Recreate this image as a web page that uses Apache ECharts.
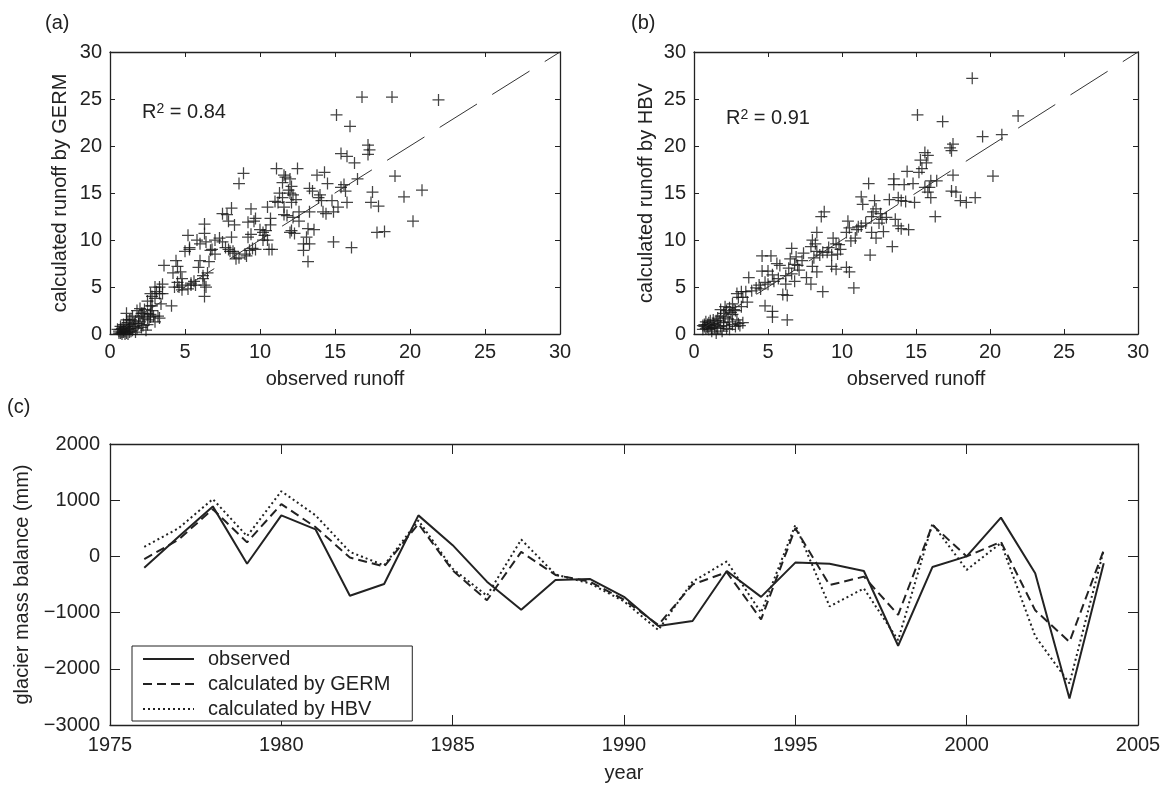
<!DOCTYPE html>
<html>
<head>
<meta charset="utf-8">
<title>runoff and glacier mass balance</title>
<script src="https://cdn.jsdelivr.net/npm/echarts@6/dist/echarts.min.js"></script>
<style>
  html, body { margin: 0; padding: 0; background: #fff; }
  #main { width: 1168px; height: 785px; }
</style>
</head>
<body>
<div id="main"></div>
<script>
// (a) observed runoff vs runoff calculated by GERM
var germObs = [16.8,18.8,21.9,15.1,16.0,15.4,15.8,16.3,17.2,17.3,17.2,19.0,20.8,19.6,20.2,17.5,17.4,17.9,17.8,18.3,
  16.1,14.9,15.6,15.4,15.7,15.8,15.2,14.9,16.5,14.5,14.3,13.8,13.5,14.0,13.9,14.8,14.4,14.2,13.2,13.1,
  12.9,13.2,13.3,13.6,12.0,12.3,12.6,12.2,11.8,12.1,12.4,11.6,11.2,11.5,11.3,11.1,12.5,11.7,11.5,12.0,
  11.9,12.0,12.2,10.5,10.7,10.4,10.3,10.5,10.2,10.8,9.4,9.6,9.2,9.4,9.7,9.3,9.1,8.9,8.6,8.1,
  7.9,7.8,8.3,8.1,8.0,8.2,8.3,7.9,8.6,7.5,7.3,7.0,6.8,7.0,6.6,6.3,6.3,6.0,6.5,6.2,
  6.3,6.3,6.0,5.6,5.4,5.7,5.2,5.3,5.0,4.4,4.5,4.7,4.2,4.8,4.5,4.6,4.8,5.2,4.3,4.1,
  3.6,3.3,3.5,3.0,3.1,2.7,3.3,3.4,3.0,2.8,2.5,2.8,2.3,2.5,2.0,2.1,1.8,1.9,2.3,2.6,
  2.9,3.2,2.5,2.2,2.0,1.7,1.5,1.3,1.6,1.5,1.2,1.0,0.8,0.7,0.9,1.1,1.4,0.6,1.0,0.8,
  1.2,1.8,1.1,2.4,3.0,0.9,1.3,1.7,0.5,0.7,11.6,13.3,12.1,11.0,14.1,11.6,12.6,13.3,10.7,10.0,
  12.1,10.2,12.9,7.5,9.2,9.7,5.8,5.3,6.4,6.7,7.7,8.4,9.0,9.5,10.6,5.9,6.2,4.8,5.4,6.4,
  2.8,3.5,1.1,2.2,1.3,2.7,3.3,0.6,0.9,1.1,0.7,1.0,1.3,1.6,1.9,2.2,2.7,1.4,0.8,1.2,
  2.1,2.7];
var germCalc = [25.2,25.2,24.9,23.3,22.1,19.2,18.9,18.2,20.1,19.6,19.1,16.8,15.3,14.6,12.0,15.1,14.0,13.6,10.8,10.9,
  9.2,9.8,15.9,15.6,15.2,14.0,13.5,13.0,16.5,16.0,17.2,16.9,15.2,14.8,14.5,14.2,12.8,13.0,11.2,10.3,
  8.9,7.7,9.6,11.1,10.8,10.7,13.0,12.4,12.6,14.0,14.3,13.5,14.0,14.5,15.0,17.6,17.6,16.7,16.1,16.5,
  15.3,15.0,14.8,13.5,12.3,11.0,10.5,10.0,10.8,9.0,13.3,12.0,10.3,10.6,9.0,8.9,8.3,17.1,16.0,13.4,
  12.0,12.7,11.6,10.3,8.8,8.8,8.6,9.0,8.1,9.8,10.2,10.0,9.0,8.5,7.7,11.7,10.7,9.6,6.5,6.2,
  5.2,4.0,7.8,5.6,5.4,5.2,10.5,9.0,8.8,7.8,7.2,6.6,6.5,5.2,5.5,5.0,4.7,4.8,5.0,3.0,
  7.3,5.0,5.3,5.0,4.5,4.3,4.3,3.2,3.8,3.0,3.5,2.5,2.6,2.2,2.7,2.2,2.5,1.8,1.6,1.5,
  1.9,1.9,1.0,0.9,1.3,1.4,1.9,1.0,0.8,0.4,0.5,0.3,0.2,0.1,0.4,0.8,0.3,0.3,0.0,0.6,
  1.2,0.6,1.5,0.4,1.3,1.0,0.2,0.2,0.5,0.8,16.9,15.5,15.7,14.1,14.2,12.7,12.0,13.0,11.6,11.1,
  11.0,10.0,9.6,12.8,11.9,12.3,10.0,9.2,9.8,8.9,9.2,8.0,8.5,9.1,9.0,7.1,5.9,5.9,5.2,5.0,
  4.0,4.3,2.2,2.2,1.5,1.8,1.7,0.1,0.2,0.1,0.5,0.7,0.6,1.1,1.1,1.9,2.1,1.5,0.0,0.0,
  0.7,3.0];

// (b) observed runoff vs runoff calculated by HBV
var hbvObs = [18.8,15.1,16.8,21.9,19.5,20.8,20.2,17.3,17.5,17.4,15.6,15.8,15.7,15.3,15.4,15.2,14.4,17.5,17.4,17.7,
  18.0,18.4,19.0,16.3,16.0,16.4,15.6,15.8,16.0,15.9,14.9,14.2,14.8,13.5,13.5,13.8,14.0,13.6,13.8,14.0,
  14.5,13.4,13.2,13.0,12.7,12.5,12.3,12.1,12.0,12.2,12.8,12.0,12.3,11.9,11.3,11.4,11.8,11.3,11.6,11.0,
  10.9,10.4,10.5,10.3,10.6,10.5,10.3,10.8,9.4,9.6,9.9,9.7,9.3,9.3,9.6,9.0,8.8,8.6,8.7,8.3,
  8.0,8.2,7.9,8.3,8.1,8.0,8.3,7.6,7.9,8.7,7.3,7.0,6.8,6.6,6.5,6.4,6.6,6.2,6.3,6.0,
  6.2,6.8,5.2,4.6,4.6,5.0,5.3,5.6,5.8,5.4,5.0,4.8,4.5,4.8,5.3,5.3,6.3,3.7,3.9,3.5,
  3.2,2.9,3.0,2.6,2.8,3.3,2.4,2.2,2.0,1.8,2.6,2.3,2.0,1.7,3.3,3.0,2.6,2.8,1.5,1.3,
  1.1,0.9,0.7,0.6,1.0,1.2,0.8,1.4,1.6,2.0,2.2,1.9,1.5,0.7,1.0,1.3,4.4,4.2,3.6,2.5,
  1.8,2.1,7.1,6.9,5.7,9.8,11.1,12.6,14.3,7.4,8.5,9.1,0.8,0.6,1.1,1.4,1.8,2.4,2.9,3.1,
  1.2,0.9,2.1,2.7,1.6,2.4,3.2];
var hbvCalc = [27.2,23.3,22.6,23.2,21.0,21.2,16.8,19.8,20.2,19.5,19.3,19.0,18.2,18.5,17.6,17.2,17.3,16.9,15.2,15.1,
  14.2,14.0,14.5,12.5,16.3,16.3,15.6,15.1,14.5,15.6,14.0,15.9,16.0,16.5,15.9,14.5,14.2,12.2,11.5,11.2,
  11.1,9.3,14.3,12.4,12.2,11.8,13.3,13.0,12.5,14.2,10.9,10.8,10.2,8.4,14.6,13.8,16.0,11.5,11.8,11.1,
  10.2,12.0,11.3,10.8,9.9,6.6,7.1,4.9,10.2,9.6,9.0,8.5,8.4,7.2,6.9,8.7,13.0,12.5,8.7,10.8,
  10.0,9.6,9.3,8.8,8.1,7.2,6.6,6.0,5.3,4.5,7.8,7.3,7.4,9.1,8.0,7.0,6.4,6.2,4.1,4.2,
  5.3,5.6,8.3,8.3,6.7,6.7,6.3,7.5,7.3,5.6,5.3,5.5,4.8,3.0,2.4,1.8,1.5,6.0,4.6,4.5,
  4.5,4.3,3.9,3.2,2.5,3.9,2.8,2.5,2.2,1.9,2.1,1.6,1.2,1.4,1.2,1.1,1.0,0.8,1.4,1.1,
  0.9,1.0,0.8,0.9,0.5,0.3,1.3,0.7,0.6,0.9,0.6,0.3,0.1,1.0,1.2,1.5,5.2,4.9,3.4,2.3,
  2.6,2.9,6.8,8.2,5.9,9.5,11.4,12.8,14.1,8.6,8.4,9.2,0.6,0.5,1.4,1.0,0.8,1.3,1.5,0.9,
  0.6,0.7,1.8,2.6,1.7,0.5,2.9];

// 1:1 reference line (observed = calculated), drawn from the top corner down
var oneToOne = [30, 0.5];
var runoffTicks = [0, 30, 5];

// (c) glacier mass balance (mm)
var years = [1976,1977,1978,1979,1980,1981,1982,1983,1984,1985,1986,1987,1988,1989,1990,
  1991,1992,1993,1994,1995,1996,1997,1998,1999,2000,2001,2002,2003,2004];
var observed = [-200,350,890,-130,730,480,-700,-490,730,200,-450,-950,-420,-400,-720,
  -1240,-1150,-260,-720,-110,-130,-260,-1590,-190,0,690,-300,-2530,-120];
var byGERM = [-50,300,840,250,930,520,-20,-180,580,-250,-780,80,-330,-450,-770,
  -1220,-500,-280,-1120,500,-510,-360,-1040,560,0,260,-960,-1520,110];
var byHBV = [170,500,1020,360,1160,730,80,-160,640,-220,-700,300,-320,-480,-800,
  -1310,-450,-90,-1000,560,-890,-570,-1490,580,-240,240,-1420,-2260,110];
var yearTicks = [1975, 2005, 5];
var balanceTicks = [-3000, 2000, 1000];

var FONT = 'Liberation Sans';
var INK = '#222';
var PLUS = 'path://M0,5L10,5M5,0L5,10';

function zip(a, b) {
  var out = [];
  for (var i = 0; i < a.length; i++) out.push([a[i], b[i]]);
  return out;
}

function plainNum(v) {
  return String(v).replace('-', '\u2212');
}

// an axis with labels plus a mirrored one on the opposite side, inward ticks (boxed frame)
function axisPair(dim, grid, ticks, tickLen, labelMargin, extra) {
  var base = {
    type: 'value', gridIndex: grid,
    min: ticks[0], max: ticks[1], interval: ticks[2],
    axisLine: { show: true, onZero: false, lineStyle: { color: INK, width: 1.3 } },
    axisTick: { show: true, inside: true, length: tickLen, lineStyle: { color: INK, width: 1 } },
    splitLine: { show: false }
  };
  var main = Object.assign({}, base, {
    position: dim == 'x' ? 'bottom' : 'left',
    axisLabel: { color: INK, fontFamily: FONT, fontSize: 20, margin: labelMargin, formatter: plainNum },
    nameLocation: 'middle',
    nameTextStyle: { color: INK, fontFamily: FONT, fontSize: 20 }
  }, extra);
  var mirror = Object.assign({}, base, {
    position: dim == 'x' ? 'top' : 'right',
    axisLabel: { show: false }
  });
  return [main, mirror];
}

var xa = axisPair('x', 0, runoffTicks, 5, 8, { name: 'observed runoff', nameGap: 35 });
var ya = axisPair('y', 0, runoffTicks, 5, 8, { name: 'calculated runoff by GERM', nameGap: 40 });
var xb = axisPair('x', 1, runoffTicks, 5, 8, { name: 'observed runoff', nameGap: 35 });
var yb = axisPair('y', 1, runoffTicks, 5, 8, { name: 'calculated runoff by HBV', nameGap: 38 });
var xc = axisPair('x', 2, yearTicks, 10, 10, { name: 'year', nameGap: 38 });
var yc = axisPair('y', 2, balanceTicks, 10, 10, { name: 'glacier mass balance (mm)', nameGap: 78 });

function crosses(xs, ys, axisIdx) {
  return {
    type: 'scatter', xAxisIndex: axisIdx, yAxisIndex: axisIdx,
    data: zip(xs, ys),
    symbol: PLUS, symbolSize: 12,
    itemStyle: { color: 'none', borderColor: '#151515', borderWidth: 1.25 },
    silent: true
  };
}

function refLine(axisIdx) {
  return {
    type: 'line', xAxisIndex: axisIdx, yAxisIndex: axisIdx,
    data: zip(oneToOne, oneToOne),
    symbol: 'none', silent: true,
    lineStyle: { color: '#333', width: 1, type: [44, 18], dashOffset: 26 }
  };
}

function balance(name, values, dash) {
  return {
    name: name, type: 'line', xAxisIndex: 4, yAxisIndex: 4,
    data: zip(years, values),
    symbol: 'none', showSymbol: false, silent: true,
    itemStyle: { color: INK },
    lineStyle: { color: INK, width: 2, type: dash }
  };
}

// R² label with a real superscript
function rSquared(left, top, value) {
  return {
    type: 'text', left: left, top: top,
    style: {
      text: '{b|R}{s|2}{b| = ' + value + '}',
      fill: INK,
      rich: {
        b: { fontFamily: FONT, fontSize: 20, lineHeight: 20, verticalAlign: 'bottom', fill: INK },
        s: { fontFamily: FONT, fontSize: 14, lineHeight: 20, verticalAlign: 'top', fill: INK }
      }
    }
  };
}

var chart = echarts.init(document.getElementById('main'), null, { renderer: 'canvas' });

chart.setOption({
  animation: false,
  backgroundColor: '#fff',
  textStyle: { fontFamily: FONT },
  grid: [
    { left: 110, top: 52, width: 450, height: 282 },
    { left: 694, top: 52, width: 444, height: 282 },
    { left: 110, top: 444, width: 1028, height: 281 }
  ],
  xAxis: xa.concat(xb, xc),
  yAxis: ya.concat(yb, yc),
  legend: {
    data: ['observed', 'calculated by GERM', 'calculated by HBV'],
    orient: 'vertical', left: 132, top: 646,
    itemWidth: 51, itemHeight: 14, itemGap: 5,
    padding: [3, 22, 2, 10],
    borderColor: INK, borderWidth: 1, backgroundColor: '#fff',
    selectedMode: false,
    itemStyle: { opacity: 0 },
    textStyle: { color: INK, fontFamily: FONT, fontSize: 20, padding: [0, 0, 0, 9] }
  },
  graphic: [
    { type: 'text', left: 45, top: 13, style: { text: '(a)', fontFamily: FONT, fontSize: 20, fill: INK } },
    { type: 'text', left: 631, top: 13, style: { text: '(b)', fontFamily: FONT, fontSize: 20, fill: INK } },
    { type: 'text', left: 7, top: 397, style: { text: '(c)', fontFamily: FONT, fontSize: 20, fill: INK } },
    rSquared(142, 102, '0.84'),
    rSquared(726, 108, '0.91')
  ],
  series: [
    crosses(germObs, germCalc, 0),
    refLine(0),
    crosses(hbvObs, hbvCalc, 2),
    refLine(2),
    balance('observed', observed, 'solid'),
    balance('calculated by GERM', byGERM, [9, 5]),
    balance('calculated by HBV', byHBV, [2, 3])
  ]
});
</script>
</body>
</html>
